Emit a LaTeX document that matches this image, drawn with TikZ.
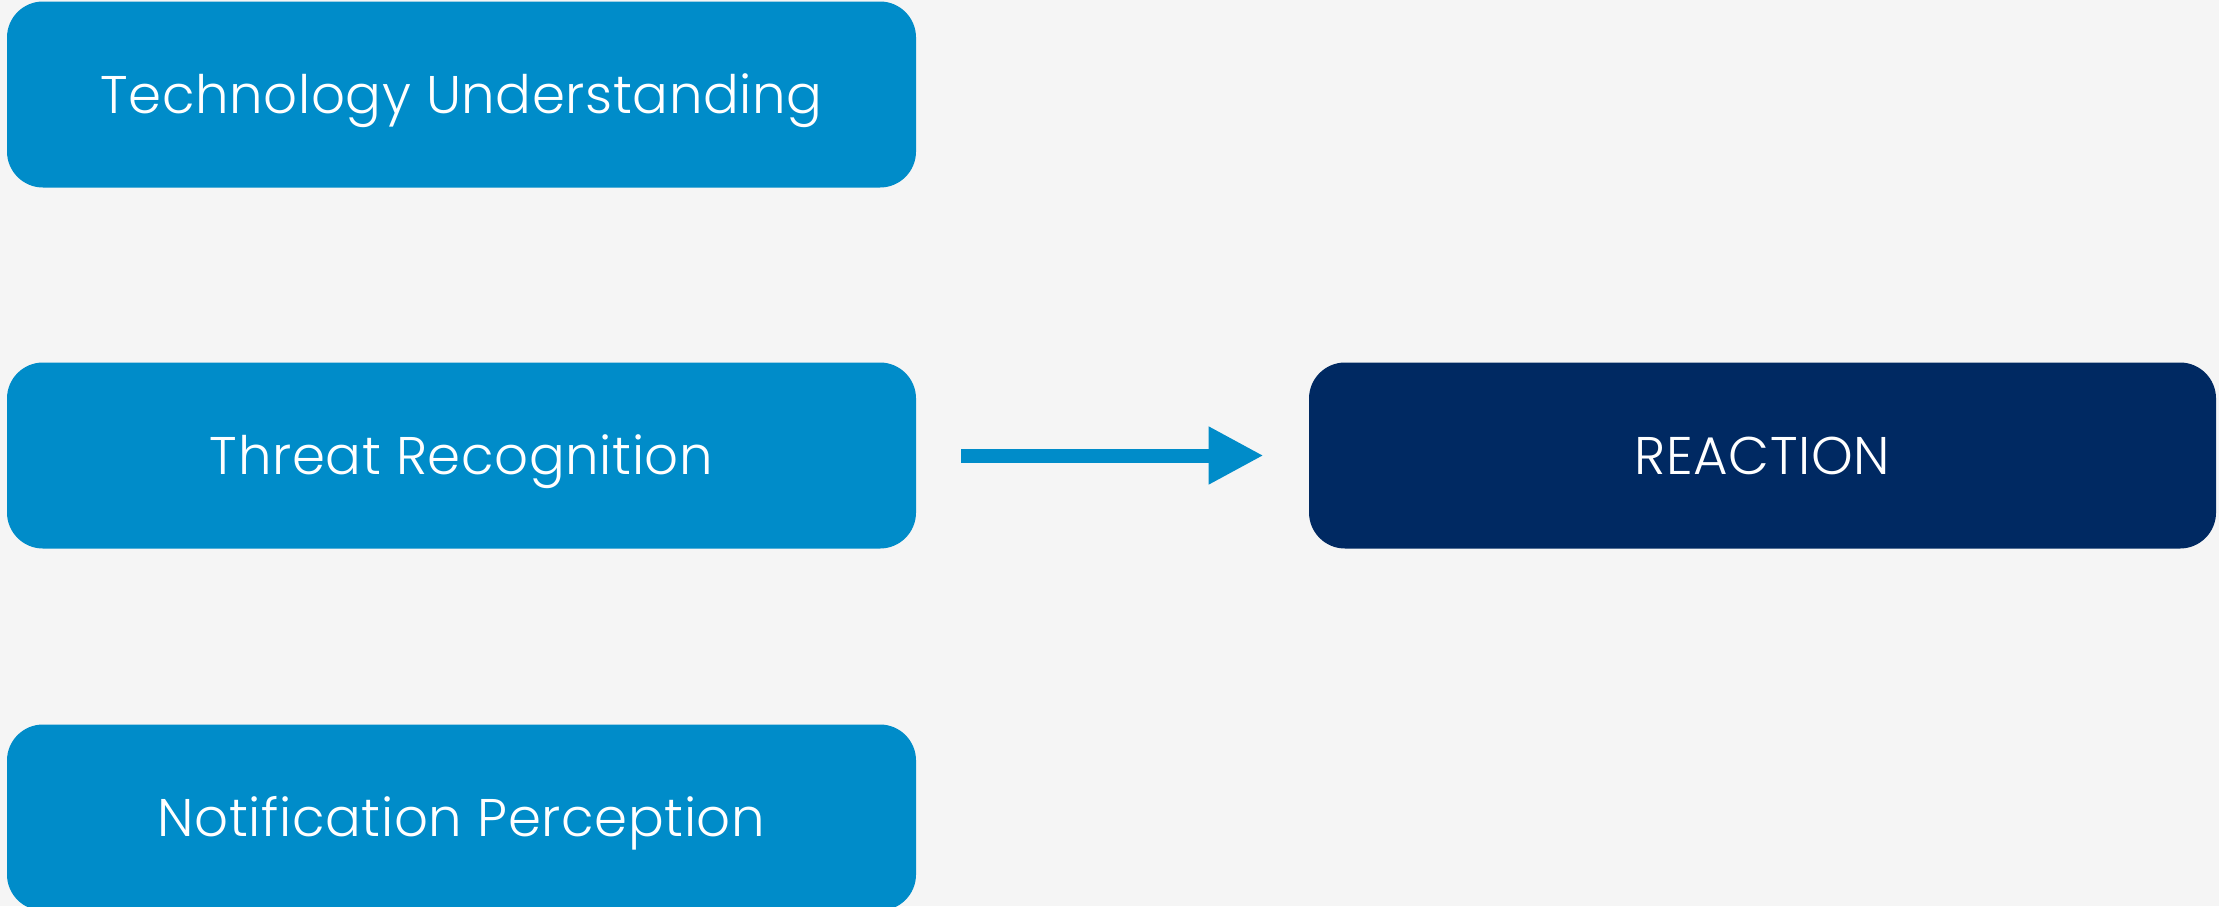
\documentclass[tikz,border=0pt]{standalone}
\usepackage{fontspec}
\setmainfont{Poppins Light}[LetterSpace=1.2]
\usetikzlibrary{arrows.meta}
\definecolor{bgc}{HTML}{F5F5F5}
\definecolor{lightblue}{HTML}{008CC9}
\definecolor{navy}{HTML}{002962}
\tikzset{
  boxbase/.style={rectangle, rounded corners=18pt, minimum height=93pt, inner sep=0pt,
    text=white, font=\fontsize{26.5pt}{30pt}\selectfont, text height=18.5pt, text depth=0pt},
  lbox/.style={boxbase, fill=lightblue, minimum width=454.5pt},
  rbox/.style={boxbase, fill=navy, minimum width=453.5pt},
  bigarrow/.style={draw=lightblue, line width=7pt, -{Triangle[length=27.5pt,width=27pt]}}
}
\begin{document}
\begin{tikzpicture}[x=0.5pt,y=-0.5pt]
\useasboundingbox (0,0) rectangle (2219,906);
\clip (0,0) rectangle (2219,906);
\fill[bgc] (0,0) rectangle (2219,906);
\node[lbox] (tech) at (461.5,94.5) {Technology Understanding};
\node[lbox] (threat) at (461.5,455.5) {Threat Recognition};
\node[lbox] (notif) at (461.5,817.5) {Notification Perception};
\node[rbox] (react) at (1762.5,455.5) {REACTION};
\draw[bigarrow] ([xshift=22.5pt]threat.east) -- ([xshift=-22.5pt]react.west);
\end{tikzpicture}
\end{document}
